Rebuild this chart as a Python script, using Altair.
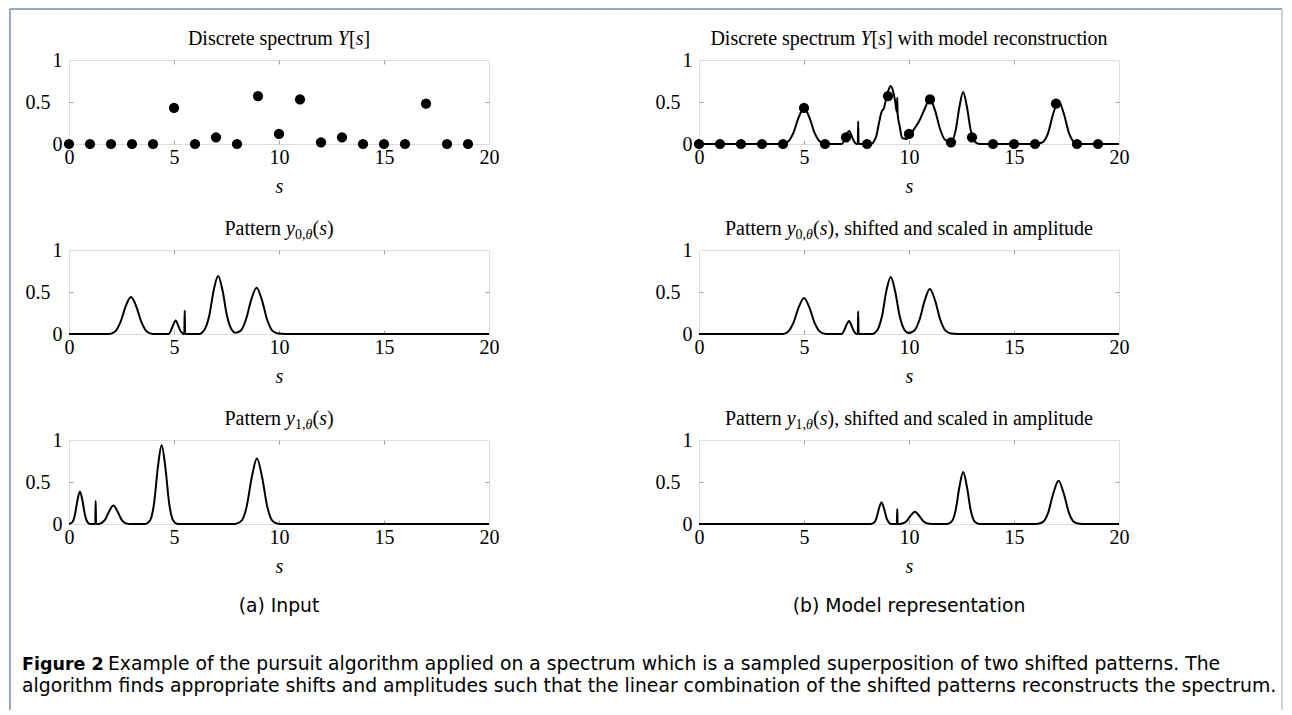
import altair as alt
import pandas as pd

# ---------------- data ----------------
spectrum_s = list(range(20))
spectrum_Y = [0, 0, 0, 0, 0, 0.43, 0, 0.08, 0, 0.57, 0.12, 0.53, 0.02, 0.08, 0, 0, 0, 0.48, 0, 0]

recon_s = [0, 4.0, 4.25, 4.5, 4.75, 5.0, 5.25, 5.5, 5.75, 6.05,
           6.8, 6.9, 7.0, 7.15, 7.27, 7.37, 7.5, 7.56, 7.58, 7.6,
           8.2, 8.33, 8.45, 8.57, 8.69, 8.81, 8.92, 9.02, 9.13, 9.25,
           9.34, 9.42, 9.44, 9.46, 9.55, 9.68, 9.78, 9.88, 10.08, 10.25,
           10.48, 10.75, 10.99, 11.24, 11.49, 11.74, 12.04, 12.22, 12.4, 12.58,
           12.76, 12.94, 13.12, 13.3, 13.47, 16.07, 16.12, 16.37, 16.62, 16.87,
           17.12, 17.37, 17.62, 17.87, 18.12, 18.3, 20]
recon_y = [0, 0, 0.03, 0.135, 0.32, 0.43, 0.32, 0.135, 0.03, 0,
           0, 0.035, 0.095, 0.155, 0.095, 0.035, 0, 0, 0.27, 0,
           0, 0.03, 0.1, 0.25, 0.38, 0.43, 0.55, 0.64, 0.69, 0.62,
           0.51, 0.38, 0.55, 0.35, 0.22, 0.07, 0.065, 0.06, 0.12, 0.18,
           0.27, 0.42, 0.54, 0.4, 0.17, 0.045, 0.035, 0.162, 0.44, 0.62,
           0.44, 0.162, 0.03, 0.003, 0, 0, 0.002, 0.022, 0.129, 0.363,
           0.515, 0.363, 0.129, 0.022, 0.002, 0, 0]

pattern0_s = [0, 1.9, 2.2, 2.45, 2.7, 2.95, 3.2, 3.45, 3.7, 4.0,
              4.75, 4.85, 4.95, 5.08, 5.2, 5.3, 5.42, 5.49, 5.51, 5.53,
              6.2, 6.45, 6.68, 6.89, 7.1, 7.31, 7.52, 7.75, 7.92, 8.18,
              8.43, 8.68, 8.93, 9.18, 9.43, 9.68, 9.95, 10.3, 20]
pattern0_y = [0, 0, 0.03, 0.14, 0.33, 0.44, 0.33, 0.14, 0.03, 0,
              0, 0.04, 0.1, 0.16, 0.1, 0.04, 0.005, 0, 0.28, 0,
              0, 0.05, 0.22, 0.52, 0.69, 0.52, 0.22, 0.05, 0.015, 0.04,
              0.175, 0.41, 0.55, 0.41, 0.175, 0.04, 0.005, 0, 0]

shifted0_s = [0, 4.0, 4.25, 4.5, 4.75, 5.0, 5.25, 5.5, 5.75, 6.05,
              6.8, 6.9, 7.0, 7.15, 7.27, 7.37, 7.5, 7.56, 7.58, 7.6,
              8.25, 8.5, 8.72, 8.92, 9.13, 9.34, 9.55, 9.78, 9.98, 10.25,
              10.5, 10.75, 10.99, 11.24, 11.49, 11.74, 12.0, 12.3, 20]
shifted0_y = [0, 0, 0.03, 0.135, 0.32, 0.43, 0.32, 0.135, 0.03, 0,
              0, 0.035, 0.095, 0.155, 0.095, 0.035, 0, 0, 0.27, 0,
              0, 0.05, 0.22, 0.51, 0.68, 0.51, 0.22, 0.05, 0.012, 0.04,
              0.17, 0.4, 0.535, 0.4, 0.17, 0.04, 0.005, 0, 0]

pattern1_s = [0, 0.16, 0.28, 0.40, 0.52, 0.64, 0.76, 0.88, 1.0, 1.25,
              1.27, 1.29, 1.4, 1.51, 1.71, 1.91, 2.11, 2.31, 2.51, 2.71,
              2.9, 3.6, 3.69, 3.87, 4.05, 4.23, 4.41, 4.59, 4.77, 4.95,
              5.13, 5.3, 7.9, 7.95, 8.2, 8.45, 8.7, 8.95, 9.2, 9.45,
              9.7, 9.95, 10.1, 20]
pattern1_y = [0, 0.022, 0.107, 0.28, 0.387, 0.28, 0.107, 0.022, 0, 0,
              0.277, 0, 0, 0.007, 0.049, 0.15, 0.22, 0.15, 0.049, 0.007,
              0, 0, 0.004, 0.046, 0.245, 0.67, 0.937, 0.67, 0.245, 0.046,
              0.004, 0, 0, 0.003, 0.034, 0.195, 0.55, 0.78, 0.55, 0.195,
              0.034, 0.003, 0, 0]

shifted1_s = [0, 8.17, 8.33, 8.45, 8.57, 8.69, 8.81, 8.93, 9.05, 9.17,
              9.42, 9.44, 9.46, 9.57, 9.68, 9.88, 10.08, 10.28, 10.48, 10.68,
              10.88, 11.07, 11.77, 11.86, 12.04, 12.22, 12.4, 12.58, 12.76, 12.94,
              13.12, 13.3, 13.47, 16.07, 16.12, 16.37, 16.62, 16.87, 17.12, 17.37,
              17.62, 17.87, 18.12, 18.3, 20]
shifted1_y = [0, 0, 0.015, 0.07, 0.185, 0.255, 0.185, 0.07, 0.015, 0,
              0, 0.18, 0, 0, 0.005, 0.032, 0.1, 0.145, 0.1, 0.032,
              0.005, 0, 0, 0.003, 0.03, 0.162, 0.44, 0.62, 0.44, 0.162,
              0.03, 0.003, 0, 0, 0.002, 0.022, 0.129, 0.363, 0.515, 0.363,
              0.129, 0.022, 0.002, 0, 0]

x_ticks = [0, 5, 10, 15, 20]
y_ticks = [0, 0.5, 1]
axis_title = "s"

# panel titles: (text, style) with r = roman, i = italic, sr/si = subscript roman/italic
panel_titles = [
    [("Discrete spectrum ", "r"), ("Y", "i"), ("[", "r"), ("s", "i"), ("]", "r")],
    [("Discrete spectrum ", "r"), ("Y", "i"), ("[", "r"), ("s", "i"), ("]", "r"),
     (" with model reconstruction", "r")],
    [("Pattern ", "r"), ("y", "i"), ("0,", "sr"), ("θ", "si"), ("(", "r"), ("s", "i"), (")", "r")],
    [("Pattern ", "r"), ("y", "i"), ("0,", "sr"), ("θ", "si"), ("(", "r"), ("s", "i"), (")", "r"),
     (", shifted and scaled in amplitude", "r")],
    [("Pattern ", "r"), ("y", "i"), ("1,", "sr"), ("θ", "si"), ("(", "r"), ("s", "i"), (")", "r")],
    [("Pattern ", "r"), ("y", "i"), ("1,", "sr"), ("θ", "si"), ("(", "r"), ("s", "i"), (")", "r"),
     (", shifted and scaled in amplitude", "r")],
]
subcaptions = ["(a) Input", "(b) Model representation"]
caption_bold = "Figure 2"
caption_line1 = ("Example of the pursuit algorithm applied on a spectrum which is a sampled "
                 "superposition of two shifted patterns. The")
caption_line2 = ("algorithm finds appropriate shifts and amplitudes such that the linear "
                 "combination of the shifted patterns reconstructs the spectrum.")

# ---------------- styling ----------------
SERIF = "Liberation Serif"
SANS = "DejaVu Sans"
W, H = 420, 84
TITLE_SIZE = 20
SUB_SIZE = 14
LABEL_SIZE = 20
CAP_SIZE = 18.8
BOLD_SIZE = 17.5
TICK_COLOR = "#a0a0a0"
FRAME_BLUE = "#6f8bb3"
FRAME_GREY = "#c2c7ce"

# page placement of the top-left plot area (autosize none: origin = padding)
PAD_LEFT, PAD_TOP = 61, 52
PAD_RIGHT, PAD_BOTTOM = 1276 - PAD_LEFT, 706 - PAD_TOP

ROMAN_W = {' ': 250, '(': 333, ')': 333, ',': 250, '.': 250, '[': 333, ']': 333,
           'A': 722, 'D': 722, 'P': 556, 'Y': 722,
           'a': 444, 'b': 500, 'c': 444, 'd': 500, 'e': 444, 'f': 333, 'g': 500, 'h': 500,
           'i': 278, 'j': 278, 'k': 500, 'l': 278, 'm': 778, 'n': 500, 'o': 500, 'p': 500,
           'q': 500, 'r': 333, 's': 389, 't': 278, 'u': 500, 'v': 500, 'w': 722, 'x': 500,
           'y': 500, 'z': 444, 'θ': 500}
for _d in "0123456789":
    ROMAN_W[_d] = 500
ITALIC_W = {'Y': 556, 's': 389, 'y': 444, 'θ': 500}

one_row = alt.Data(values=[{"k": 1}])

xs = alt.Scale(domain=[0, 20], nice=False, zero=False)
ys = alt.Scale(domain=[0, 1], nice=False, zero=False)

x_axis = alt.Axis(
    values=x_ticks, format="d", title=axis_title, ticks=False, tickSize=0,
    labelFont=SERIF, labelFontSize=LABEL_SIZE, labelColor="black", labelPadding=3,
    labelFlush=False, labelOverlap=False,
    titleFont=SERIF, titleFontSize=20, titleFontStyle="italic", titleFontWeight="normal",
    titleColor="black", titlePadding=9,
    domain=False, grid=True, gridColor=TICK_COLOR, gridDash=[4, 76], gridWidth=1,
    gridOpacity={"condition": {"test": "datum.value == 0 || datum.value == 20", "value": 0}, "value": 1},
)
y_axis = alt.Axis(
    values=y_ticks, format="~g", title=None, ticks=False, tickSize=0,
    labelFont=SERIF, labelFontSize=LABEL_SIZE, labelColor="black",
    labelPadding={"condition": {"test": "datum.value == 0.5", "value": 19}, "value": 7},
    labelFlush=False, labelOverlap=False,
    domain=False, grid=True, gridColor=TICK_COLOR, gridDash=[4, 412], gridWidth=1,
    gridOpacity={"condition": {"test": "datum.value == 0 || datum.value == 1", "value": 0}, "value": 1},
)


def char_w(c, italic):
    if italic and c in ITALIC_W:
        return ITALIC_W[c]
    return ROMAN_W.get(c, 500)


def seg_width(text, style):
    italic = style in ("i", "si")
    size = SUB_SIZE if style in ("sr", "si") else TITLE_SIZE
    return sum(char_w(c, italic) for c in text) / 1000.0 * size


def title_layers(segments, baseline=-15):
    widths = [seg_width(t, st) for t, st in segments]
    x = W / 2 - sum(widths) / 2
    out = []
    for (t, st), w in zip(segments, widths):
        sub = st in ("sr", "si")
        size = SUB_SIZE if sub else TITLE_SIZE
        lead = len(t) - len(t.lstrip(" "))
        shown = t.strip(" ")
        x0 = x + lead * ROMAN_W[' '] / 1000.0 * size
        out.append(
            alt.Chart(one_row).mark_text(
                text=shown, font=SERIF, fontSize=size,
                fontStyle="italic" if st in ("i", "si") else "normal",
                align="left", baseline="alphabetic", color="black",
            ).encode(x=alt.value(x0), y=alt.value(baseline + (4 if sub else 0)))
        )
        x += w
    return out


def curve_layer(s, v):
    df = pd.DataFrame({"s": s, "v": v})
    return alt.Chart(df).mark_line(color="black", strokeWidth=2, interpolate="monotone").encode(
        x=alt.X("s:Q", scale=xs, axis=x_axis), y=alt.Y("v:Q", scale=ys, axis=y_axis))


def points_layer():
    df = pd.DataFrame({"s": spectrum_s, "v": spectrum_Y})
    return alt.Chart(df).mark_circle(color="black", size=105, opacity=1).encode(
        x=alt.X("s:Q", scale=xs, axis=x_axis), y=alt.Y("v:Q", scale=ys, axis=y_axis))


def rule(color, **enc):
    return alt.Chart(one_row).mark_rule(color=color, strokeWidth=1.5).encode(
        **{k: alt.value(v) for k, v in enc.items()})


def sans_text(t, x, y, align="left", bold=False, size=CAP_SIZE):
    return alt.Chart(one_row).mark_text(
        text=t, font=SANS, fontSize=size, fontWeight="bold" if bold else "normal",
        align=align, baseline="alphabetic", color="black",
    ).encode(x=alt.value(x), y=alt.value(y))


# frame around the figure (drawn from the top-left panel)
frame = [
    rule(FRAME_BLUE, x=-59, y=-51, y2=650),
    rule(FRAME_BLUE, x=-59, x2=1213, y=-51),
    rule(FRAME_GREY, x=1213, y=-51, y2=650),
]

p_spec = alt.layer(points_layer(), *title_layers(panel_titles[0]), *frame)
p_recon = alt.layer(curve_layer(recon_s, recon_y), points_layer(), *title_layers(panel_titles[1]))
p_pat0 = alt.layer(curve_layer(pattern0_s, pattern0_y), *title_layers(panel_titles[2]))
p_sh0 = alt.layer(curve_layer(shifted0_s, shifted0_y), *title_layers(panel_titles[3]))
p_pat1 = alt.layer(
    curve_layer(pattern1_s, pattern1_y), *title_layers(panel_titles[4]),
    sans_text(subcaptions[0], W / 2, 172, align="center"),
    sans_text(caption_bold, -47, 230, bold=True, size=BOLD_SIZE),
    sans_text(caption_line1, 39, 230),
    sans_text(caption_line2, -47, 252),
)
p_sh1 = alt.layer(
    curve_layer(shifted1_s, shifted1_y), *title_layers(panel_titles[5]),
    sans_text(subcaptions[1], W / 2, 172, align="center"),
)

panels = [p.properties(width=W, height=H) for p in
          [p_spec, p_recon, p_pat0, p_sh0, p_pat1, p_sh1]]

chart = alt.concat(
    *panels, columns=2, spacing={"row": 106, "column": 210}, bounds="flush",
    autosize=alt.AutoSizeParams(type="none"),
    padding={"left": PAD_LEFT, "top": PAD_TOP, "right": PAD_RIGHT, "bottom": PAD_BOTTOM},
).configure_view(stroke="#111111", strokeWidth=1).configure(background="white")

chart.save("out.html", embed_options={"renderer": "svg", "actions": False})
